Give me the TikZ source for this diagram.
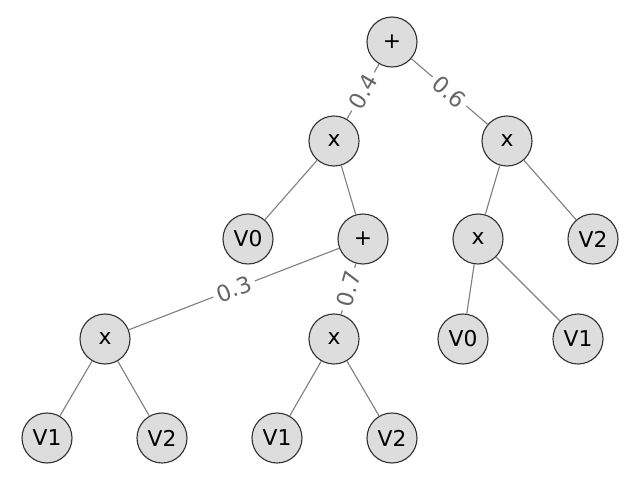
\documentclass[tikz,border=0pt]{standalone}
\usepackage{fontspec}
\setmainfont{DejaVu Sans}
\usetikzlibrary{positioning}
\definecolor{nodefill}{HTML}{DDDDDD}
\definecolor{nodebdr}{HTML}{333333}
\definecolor{edgegrey}{HTML}{808080}
\definecolor{lblgrey}{HTML}{666666}
\tikzset{
    treenode/.style={circle, draw=nodebdr, fill=nodefill, line width=0.8pt,
        minimum size=1.25cm, inner sep=0pt, font=\fontsize{15.5}{18}\selectfont},
    edge/.style={draw=edgegrey, line width=0.8pt},
    wlbl/.style={sloped, fill=white, inner xsep=3pt, inner ysep=1pt,
        text=lblgrey, font=\fontsize{16}{18}\selectfont},
}

\begin{document}
\begin{tikzpicture}[x=0.025cm, y=-0.025cm]
\useasboundingbox (0,0) rectangle (640,480);

% ================================================================
%  NODES (pixel coordinates)
% ================================================================

\node[treenode] (root)  at (392, 42)  {+};
\node[treenode] (mulA)  at (334, 141) {x};
\node[treenode] (mulB)  at (507, 141) {x};

\node[treenode] (vA0)   at (248, 239) {V0};
\node[treenode] (addA)  at (363, 239) {+};
\node[treenode] (mulC)  at (478, 239) {x};
\node[treenode] (vB2)   at (593, 239) {V2};

\node[treenode] (mulD)  at (105, 339) {x};
\node[treenode] (mulE)  at (334, 339) {x};
\node[treenode] (vC0)   at (463, 339) {V0};
\node[treenode] (vC1)   at (578, 339) {V1};

\node[treenode] (vD1)   at (47, 438)  {V1};
\node[treenode] (vD2)   at (162, 438) {V2};
\node[treenode] (vE1)   at (277, 438) {V1};
\node[treenode] (vE2)   at (392, 438) {V2};

% ================================================================
%  EDGES
% ================================================================

\draw[edge] (root) -- node[wlbl] {0.4} (mulA);
\draw[edge] (root) -- node[wlbl] {0.6} (mulB);

\draw[edge] (mulA) -- (vA0);
\draw[edge] (mulA) -- (addA);
\draw[edge] (mulB) -- (mulC);
\draw[edge] (mulB) -- (vB2);

\draw[edge] (addA) -- node[wlbl] {0.3} (mulD);
\draw[edge] (addA) -- node[wlbl] {0.7} (mulE);
\draw[edge] (mulC) -- (vC0);
\draw[edge] (mulC) -- (vC1);

\draw[edge] (mulD) -- (vD1);
\draw[edge] (mulD) -- (vD2);
\draw[edge] (mulE) -- (vE1);
\draw[edge] (mulE) -- (vE2);

\end{tikzpicture}
\end{document}
